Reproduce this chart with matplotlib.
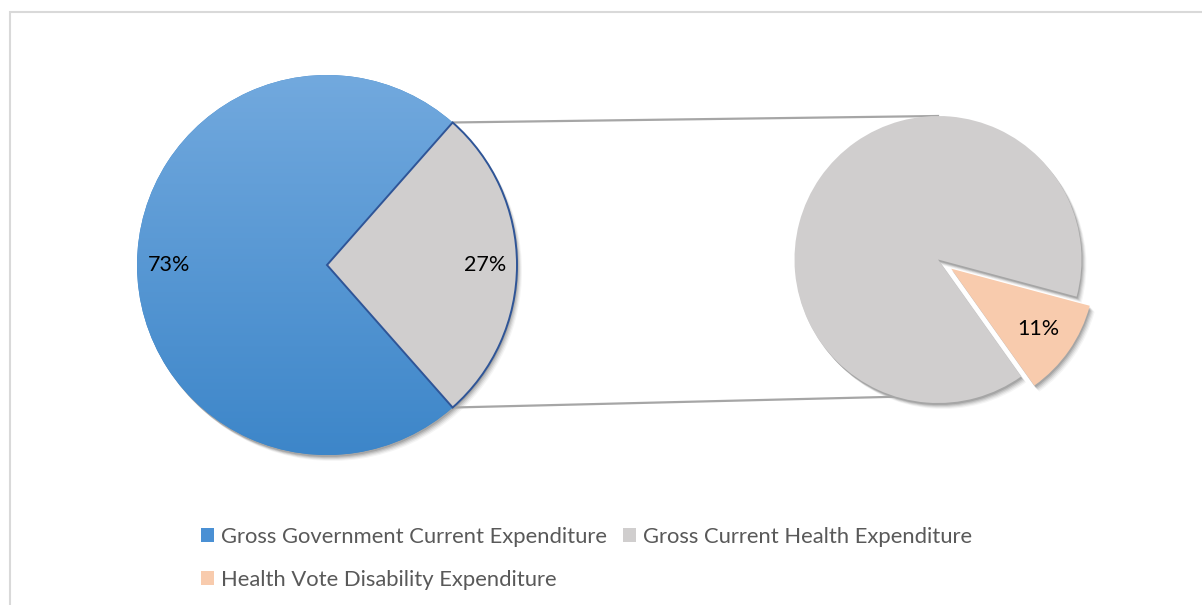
"""Pie-of-pie: disability share of health expenditure."""

import matplotlib.pyplot as plt
import numpy as np
from matplotlib.colors import LinearSegmentedColormap
from matplotlib.patches import Rectangle

plt.rcParams["font.family"] = ["Lato", "DejaVu Sans"]

main_labels = ["Gross Government Current Expenditure", "Gross Current Health Expenditure"]
main_values = [73, 27]
sub_labels = ["Gross Current Health Expenditure", "Health Vote Disability Expenditure"]
sub_values = [89, 11]

BLUE_TOP, BLUE_BOT = "#72A9DE", "#3D86C9"
GREY = "#D0CECE"
PEACH = "#F8CBAD"
EDGE = "#2F5597"

W, H = 1202, 605
fig = plt.figure(figsize=(W / 100, H / 100), dpi=100)
ax = fig.add_axes([0, 0, 1, 1])

c1, r1 = (327, 340), 190
c2, r2 = (938, 345.5), 143.5
start1 = 360 * main_values[1] / 200  # grey slice centred on the right
start2 = 345
expl2 = [0, 16]  # pie() explodes in data units


def shadow(center, radius, values, start, explode=None):
    for k, (dx, dy) in enumerate([(5, -6), (4, -5), (3, -4), (2, -3), (1, -2)]):
        ws, _ = ax.pie(values, center=(center[0] + dx, center[1] + dy), radius=radius,
                       startangle=start, explode=explode, frame=True,
                       colors=["#000000"] * len(values),
                       wedgeprops=dict(linewidth=0, alpha=0.04 + 0.02 * k))
        for w in ws:
            w.set_zorder(1)


shadow(c1, r1, main_values, start1)
shadow(c2, r2, sub_values, start2, explode=expl2)

w1, t1, a1 = ax.pie(main_values, center=c1, radius=r1, startangle=start1,
                    colors=[BLUE_BOT, GREY], autopct="%.0f%%", pctdistance=0.83,
                    frame=True, wedgeprops=dict(linewidth=0),
                    textprops=dict(fontsize=15.5, color="#000000"))
for w in w1:
    w.set_zorder(2)
w1[1].set_edgecolor(EDGE)
w1[1].set_linewidth(1.4)
w1[1].set_zorder(4)

# vertical gradient on the blue slice
grad = np.linspace(0, 1, 256).reshape(-1, 1)
cmap = LinearSegmentedColormap.from_list("b", [BLUE_BOT, BLUE_TOP])
img = ax.imshow(grad, cmap=cmap, origin="lower", aspect="auto", zorder=3,
                extent=(c1[0] - r1, c1[0] + r1, c1[1] - r1, c1[1] + r1))
img.set_clip_path(w1[0])

w2, t2, a2 = ax.pie(sub_values, center=c2, radius=r2, startangle=start2,
                    explode=expl2, colors=[GREY, PEACH],
                    autopct=lambda p: f"{p:.0f}%" if p < 50 else "",
                    pctdistance=0.74, frame=True, wedgeprops=dict(linewidth=0),
                    textprops=dict(fontsize=15.5, color="#000000"))
for w in w2:
    w.set_zorder(2)
for t in list(a1) + list(a2):
    t.set_zorder(6)

# connector lines
a = np.deg2rad(start1 + 360 * main_values[0] / 100)
p_top = (c1[0] + r1 * np.cos(np.deg2rad(start1)), c1[1] + r1 * np.sin(np.deg2rad(start1)))
p_bot = (c1[0] + r1 * np.cos(a), c1[1] + r1 * np.sin(a))
q_top = (c2[0], c2[1] + r2)
b = np.deg2rad(-107)
q_bot = (c2[0] + r2 * np.cos(b), c2[1] + r2 * np.sin(b))
for p, q in [(p_top, q_top), (p_bot, q_bot)]:
    ax.plot([p[0], q[0]], [p[1], q[1]], color="#A6A6A6", lw=1.6, zorder=1)

ax.set_xlim(0, W)
ax.set_ylim(0, H)
ax.set_aspect("auto")
ax.axis("off")

fig.patches.append(Rectangle((10, -5), W, H - 7, transform=None, fill=False,
                             edgecolor="#D9D9D9", lw=1.5))

handles = [w1[0], w2[1], w1[1]]
labels = [main_labels[0], sub_labels[1], main_labels[1]]
leg = ax.legend(handles, labels, ncol=2, loc="upper left", bbox_to_anchor=(201, 78),
                bbox_transform=ax.transData, frameon=False, fontsize=15.8,
                handlelength=0.6, handleheight=0.6, handletextpad=0.3,
                columnspacing=0.75, labelspacing=1.05, borderpad=0, borderaxespad=0)
for t in leg.get_texts():
    t.set_color("#595959")
for h in leg.legend_handles:
    h.set_edgecolor("none")
leg.legend_handles[0].set_facecolor("#4A90D4")

fig.savefig("out.png", dpi=100)
